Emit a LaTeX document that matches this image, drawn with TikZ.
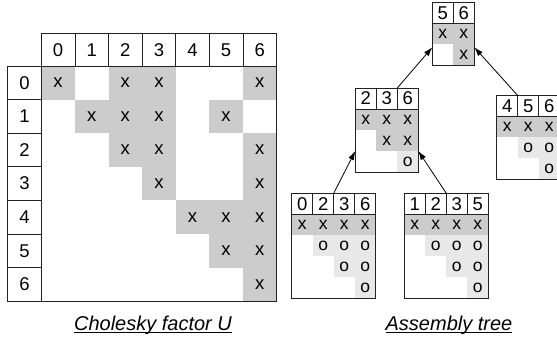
\documentclass[tikz,border=0pt]{standalone}
\usepackage{fontspec}
\setmainfont{Liberation Sans}
\usetikzlibrary{arrows.meta,calc}
\definecolor{dg}{HTML}{CCCCCC}
\definecolor{lg}{HTML}{E8E8E8}
\definecolor{ln}{HTML}{222222}
\newcommand\ulc[1]{\setbox0\hbox{#1}\rlap{\rule[-2.4pt]{\wd0}{0.9pt}}\box0}
\newcommand\frontbox[6]{%
  % #1 name, #2 x, #3 y top, #4 header list, #5 last index, #6 pivot rows
  \foreach \i in {0,...,#5} {
    \foreach \j in {\i,...,#5} {
      \ifnum\i<#6\relax
        \fill[dg] ({#2+21*\j},{#3+21+21*\i}) rectangle ++(21,21);
        \node[ftxt] (#1-c\i\j) at ({#2+21*\j+10.5},{#3+21+21*\i+10.5}) {x};
      \else
        \fill[lg] ({#2+21*\j},{#3+21+21*\i}) rectangle ++(21,21);
        \node[ftxt] (#1-c\i\j) at ({#2+21*\j+10.5},{#3+21+21*\i+10.5}) {o};
      \fi
    }
  }
  \node[draw=ln, minimum width={21*(#5+1)}, minimum height={21*(#5+1)}, inner sep=0, outer sep=0, anchor=north west] (#1) at (#2,{#3+21}) {};
  \foreach \h [count=\k from 0] in {#4} {
    \node[fhdr] (#1-h\k) at ({#2+21*\k+10.5},{#3+10.5}) {\h};
  }
}
\begin{document}
\begin{tikzpicture}[x=1pt,y=-1pt,line width=0.8pt,
  mcell/.style={draw=ln, minimum size=33.6pt, inner sep=0pt, outer sep=0pt, font=\fontsize{18.5}{20}\selectfont},
  mtxt/.style={inner sep=0pt, font=\fontsize{18.5}{20}\selectfont},
  fhdr/.style={draw=ln, fill=white, minimum size=21pt, inner sep=0pt, outer sep=0pt, font=\fontsize{18.5}{20}\selectfont},
  ftxt/.style={inner sep=0pt, font=\fontsize{17.5}{19}\selectfont},
  capt/.style={inner sep=0pt, anchor=base, font=\fontsize{20}{22}\selectfont\itshape},
  arr/.style={draw=black, line width=0.8pt, -{Latex[length=9pt,width=6pt]}}]
\clip (0,0) rectangle (557,339);
\fill[white] (0,0) rectangle (557,339);
% ---------- matrix ----------
\foreach \i/\j in {0/0,0/2,0/3,0/6,1/1,1/2,1/3,1/5,2/2,2/3,2/6,3/3,3/6,4/4,4/5,4/6,5/5,5/6,6/6} {
  \fill[dg] ({41.3+33.6*\j},{66+33.6*\i}) rectangle ++(33.6,33.6);
  \node[mtxt] (m-\i-\j) at ({41.3+33.6*\j+16.8},{66+33.6*\i+16.8}) {x};
}
\node[draw=ln, minimum width=235.2pt, minimum height=235.2pt, inner sep=0, outer sep=0, anchor=north west] (mbody) at (41.3,66) {};
\foreach \j in {0,...,6} {
  \node[mcell, minimum height=32.4pt] (ch\j) at ({41.3+33.6*\j+16.8},{66-16.2}) {\j};
  \node[mcell] (rh\j) at ({41.3-16.8},{66+33.6*\j+16.8}) {\j};
}
% ---------- assembly tree ----------
\frontbox{f56}{432.3}{2.3}{5,6}{1}{2}
\frontbox{f236}{355.3}{88}{2,3,6}{2}{2}
\frontbox{f456}{496.7}{95.5}{4,5,6}{2}{1}
\frontbox{f0236}{291.7}{193.3}{0,2,3,6}{3}{1}
\frontbox{f1235}{404.3}{193.3}{1,2,3,5}{3}{1}
\draw[arr] (f236-h1.north east) -- ($(f56.north west)+(0,24)$);
\draw[arr] (f456-h0.north east) -- ($(f56.north east)+(0,24)$);
\draw[arr] (f0236-h1.north east) -- ($(f236.north west)+(0,42)$);
\draw[arr] (f1235-h1.north east) -- ($(f236.north east)+(0,42)$);
% ---------- captions ----------
\node[capt] (cap1) at (153,330) {\ulc{Cholesky factor U}};
\node[capt] (cap2) at (449,330) {\ulc{Assembly tree}};
\end{tikzpicture}
\end{document}
